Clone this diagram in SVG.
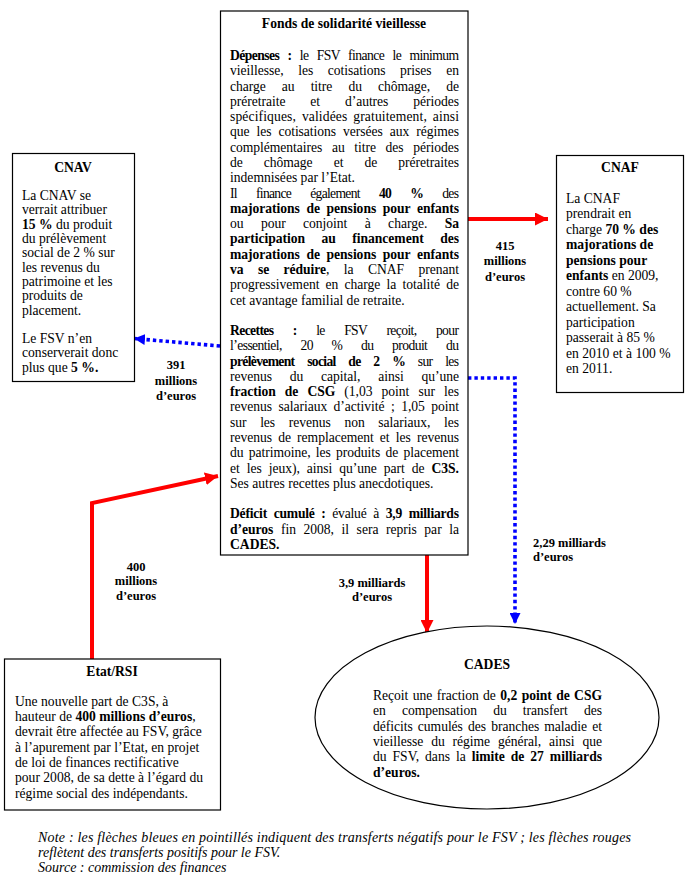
<svg xmlns="http://www.w3.org/2000/svg" width="693" height="884" viewBox="0 0 693 884">
<style>
text{font-family:"Liberation Serif","Times New Roman",serif;font-size:13.6px;fill:#000}
.b{font-weight:bold}
.c{text-anchor:middle}
.lbl{font-size:12.5px;font-weight:bold}
.note{font-style:italic;font-size:14px}
.box{fill:#fff;stroke:#000;stroke-width:1.2}
.red{fill:none;stroke:#ff0000;stroke-width:4}
.blue{fill:none;stroke:#0000ff;stroke-width:3.6;stroke-dasharray:3.4 3}
</style>
<defs>
<marker id="ar" markerUnits="userSpaceOnUse" markerWidth="14" markerHeight="13" refX="13" refY="6.5" orient="auto"><path d="M0,0 L13,6.5 L0,13 z" fill="#ff0000"/></marker>
<marker id="ab" markerUnits="userSpaceOnUse" markerWidth="12" markerHeight="11" refX="11" refY="5.5" orient="auto"><path d="M0,0 L11,5.5 L0,11 z" fill="#0000ff"/></marker>
</defs>

<g id="connectors">
<path class="red" d="M468,219 H548" marker-end="url(#ar)"/>
<path class="red" d="M427,555 V633" marker-end="url(#ar)"/>
<path class="red" d="M92,659 V503 L218,476" marker-end="url(#ar)"/>
<path class="blue" d="M220,346 L134,338.5" marker-end="url(#ab)"/>
<path class="blue" d="M468,378 H515 V624" marker-end="url(#ab)"/>
<text class="lbl c" x="505" y="249.5">415</text>
<text class="lbl c" x="505" y="265">millions</text>
<text class="lbl c" x="505" y="280.5">d’euros</text>
<text class="lbl c" x="176" y="369">391</text>
<text class="lbl c" x="176" y="384.5">millions</text>
<text class="lbl c" x="176" y="400">d’euros</text>
<text class="lbl c" x="136" y="570.5">400</text>
<text class="lbl c" x="136" y="585">millions</text>
<text class="lbl c" x="136" y="599.5">d’euros</text>
<text class="lbl c" x="372" y="587">3,9 milliards</text>
<text class="lbl c" x="372" y="600.5">d’euros</text>
<text class="lbl" x="533" y="547">2,29 milliards</text>
<text class="lbl" x="533" y="561">d’euros</text>
</g>

<g id="fsv">
<rect class="box" x="220.5" y="11" width="247.5" height="544"/>
<text class="b c" x="344" y="28">Fonds de solidarité vieillesse</text>
<text x="230" y="60" textLength="229" lengthAdjust="spacing" style="word-spacing:5.5px"><tspan class="b">Dépenses :</tspan> le FSV finance le minimum</text>
<text x="230" y="75.3" textLength="229" lengthAdjust="spacing" style="word-spacing:11.2px">vieillesse, les cotisations prises en</text>
<text x="230" y="90.6" textLength="229" lengthAdjust="spacing" style="word-spacing:12.7px">charge au titre du chômage, de</text>
<text x="230" y="105.8" textLength="229" lengthAdjust="spacing" style="word-spacing:21.5px">préretraite et d’autres périodes</text>
<text x="230" y="121.1" textLength="229" lengthAdjust="spacing" style="word-spacing:2.4px">spécifiques, validées gratuitement, ainsi</text>
<text x="230" y="136.4" textLength="229" lengthAdjust="spacing" style="word-spacing:3.6px">que les cotisations versées aux régimes</text>
<text x="230" y="151.7" textLength="229" lengthAdjust="spacing" style="word-spacing:6.2px">complémentaires au titre des périodes</text>
<text x="230" y="167" textLength="229" lengthAdjust="spacing" style="word-spacing:17.7px">de chômage et de préretraites</text>
<text x="230" y="182.2">indemnisées par l’Etat.</text>
<text x="230" y="197.5" textLength="229" lengthAdjust="spacing" style="word-spacing:16.4px">Il finance également <tspan class="b">40 %</tspan> des</text>
<text x="230" y="212.8" textLength="229" lengthAdjust="spacing" style="word-spacing:3.2px" class="b">majorations de pensions pour enfants</text>
<text x="230" y="228.1" textLength="229" lengthAdjust="spacing" style="word-spacing:14px">ou pour conjoint à charge. <tspan class="b">Sa</tspan></text>
<text x="230" y="243.4" textLength="229" lengthAdjust="spacing" style="word-spacing:13.2px" class="b">participation au financement des</text>
<text x="230" y="258.6" textLength="229" lengthAdjust="spacing" style="word-spacing:3.2px" class="b">majorations de pensions pour enfants</text>
<text x="230" y="273.9" textLength="229" lengthAdjust="spacing" style="word-spacing:11px"><tspan class="b">va se réduire</tspan>, la CNAF prenant</text>
<text x="230" y="289.2" textLength="229" lengthAdjust="spacing" style="word-spacing:2.8px">progressivement en charge la totalité de</text>
<text x="230" y="304.5">cet avantage familial de retraite.</text>
<text x="230" y="335" textLength="229" lengthAdjust="spacing" style="word-spacing:16.6px"><tspan class="b">Recettes :</tspan> le FSV reçoit, pour</text>
<text x="230" y="350.3" textLength="229" lengthAdjust="spacing" style="word-spacing:15.8px">l’essentiel, 20 % du produit du</text>
<text x="230" y="365.6" textLength="229" lengthAdjust="spacing" style="word-spacing:10px"><tspan class="b">prélèvement social de 2 %</tspan> sur les</text>
<text x="230" y="380.9" textLength="229" lengthAdjust="spacing" style="word-spacing:14.4px">revenus du capital, ainsi qu’une</text>
<text x="230" y="396.2" textLength="229" lengthAdjust="spacing" style="word-spacing:5.7px"><tspan class="b">fraction de CSG</tspan> (1,03 point sur les</text>
<text x="230" y="411.4" textLength="229" lengthAdjust="spacing" style="word-spacing:3.1px">revenus salariaux d’activité ; 1,05 point</text>
<text x="230" y="426.7" textLength="229" lengthAdjust="spacing" style="word-spacing:10.3px">sur les revenus non salariaux, les</text>
<text x="230" y="442" textLength="229" lengthAdjust="spacing" style="word-spacing:2.8px">revenus de remplacement et les revenus</text>
<text x="230" y="457.3" textLength="229" lengthAdjust="spacing" style="word-spacing:1.9px">du patrimoine, les produits de placement</text>
<text x="230" y="472.6" textLength="229" lengthAdjust="spacing" style="word-spacing:3.6px">et les jeux), ainsi qu’une part de <tspan class="b">C3S.</tspan></text>
<text x="230" y="487.8">Ses autres recettes plus anecdotiques.</text>
<text x="230" y="518.4" textLength="229" lengthAdjust="spacing" style="word-spacing:3.5px"><tspan class="b">Déficit cumulé :</tspan> évalué à <tspan class="b">3,9 milliards</tspan></text>
<text x="230" y="533.7" textLength="229" lengthAdjust="spacing" style="word-spacing:4.2px"><tspan class="b">d’euros</tspan> fin 2008, il sera repris par la</text>
<text x="230" y="549" class="b">CADES.</text>
</g>

<g id="cnav">
<rect class="box" x="12.5" y="153.5" width="122" height="228"/>
<text class="b c" x="73" y="171.5">CNAV</text>
<text x="22" y="200.1">La CNAV se</text>
<text x="22" y="214.4">verrait attribuer</text>
<text x="22" y="228.7"><tspan class="b">15 %</tspan> du produit</text>
<text x="22" y="243">du prélèvement</text>
<text x="22" y="257.3">social de 2 % sur</text>
<text x="22" y="271.6">les revenus du</text>
<text x="22" y="285.9">patrimoine et les</text>
<text x="22" y="300.2">produits de</text>
<text x="22" y="314.5">placement.</text>
<text x="22" y="343.1">Le FSV n’en</text>
<text x="22" y="357.4">conserverait donc</text>
<text x="22" y="371.7">plus que <tspan class="b">5 %.</tspan></text>
</g>

<g id="cnaf">
<rect class="box" x="556.5" y="155.5" width="127" height="237"/>
<text class="b c" x="620" y="172">CNAF</text>
<text x="566" y="202.9">La CNAF</text>
<text x="566" y="218.4">prendrait en</text>
<text x="566" y="233.8">charge <tspan class="b">70 % des</tspan></text>
<text x="566" y="249.3" class="b">majorations de</text>
<text x="566" y="264.7" class="b">pensions pour</text>
<text x="566" y="280.2"><tspan class="b">enfants</tspan> en 2009,</text>
<text x="566" y="295.7">contre 60 %</text>
<text x="566" y="311.1">actuellement. Sa</text>
<text x="566" y="326.6">participation</text>
<text x="566" y="342">passerait à 85 %</text>
<text x="566" y="357.5">en 2010 et à 100 %</text>
<text x="566" y="372.9">en 2011.</text>
</g>

<g id="etat">
<rect class="box" x="4.5" y="659" width="216" height="151"/>
<text class="b c" x="112" y="676">Etat/RSI</text>
<text x="15" y="705.7">Une nouvelle part de C3S, à</text>
<text x="15" y="721">hauteur de <tspan class="b">400 millions d’euros</tspan>,</text>
<text x="15" y="736.3">devrait être affectée au FSV, grâce</text>
<text x="15" y="751.6">à l’apurement par l’Etat, en projet</text>
<text x="15" y="766.9">de loi de finances rectificative</text>
<text x="15" y="782.2">pour 2008, de sa dette à l’égard du</text>
<text x="15" y="797.5">régime social des indépendants.</text>
</g>

<g id="cades">
<ellipse class="box" cx="487" cy="717.5" rx="172" ry="91.5"/>
<text class="b c" x="487" y="669">CADES</text>
<text x="373" y="700" textLength="229" lengthAdjust="spacing" style="word-spacing:1.1px">Reçoit une fraction de <tspan class="b">0,2 point de CSG</tspan></text>
<text x="373" y="715.3" textLength="229" lengthAdjust="spacing" style="word-spacing:12.8px">en compensation du transfert des</text>
<text x="373" y="730.6" textLength="229" lengthAdjust="spacing" style="word-spacing:1.8px">déficits cumulés des branches maladie et</text>
<text x="373" y="745.9" textLength="229" lengthAdjust="spacing" style="word-spacing:4.6px">vieillesse du régime général, ainsi que</text>
<text x="373" y="761.2" textLength="229" lengthAdjust="spacing" style="word-spacing:2.5px">du FSV, dans la <tspan class="b">limite de 27 milliards</tspan></text>
<text x="373" y="776.5" class="b">d’euros.</text>
</g>

<g id="note">
<text class="note" x="38" y="842" textLength="593" lengthAdjust="spacing">Note : les flèches bleues en pointillés indiquent des transferts négatifs pour le FSV ; les flèches rouges</text>
<text class="note" x="38" y="857">reflètent des transferts positifs pour le FSV.</text>
<text class="note" x="38" y="872">Source : commission des finances</text>
</g>
</svg>
